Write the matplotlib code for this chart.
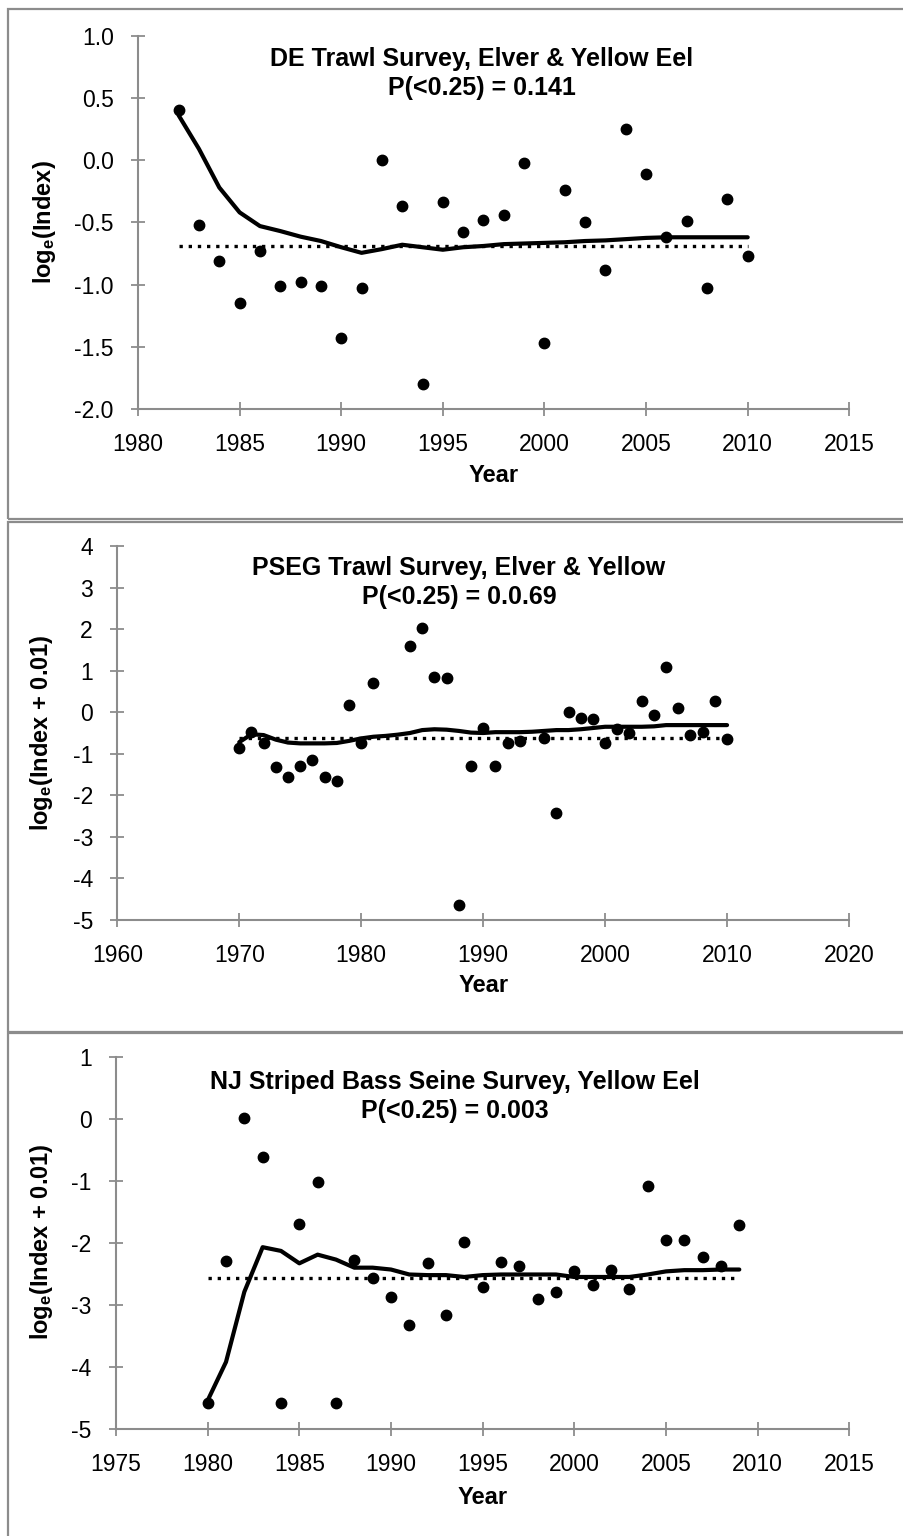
# eel_index_panels.py
#
# Three stacked survey panels: log-scale abundance index by year, with a
# smoothed trend (solid) and the long-term reference level (dotted).

import matplotlib
matplotlib.use("Agg")
import matplotlib.pyplot as plt
from matplotlib.patches import Rectangle
from matplotlib.ticker import FormatStrFormatter

matplotlib.rcParams["font.family"] = ["Liberation Sans", "DejaVu Sans"]
matplotlib.rcParams["mathtext.fontset"] = "custom"
matplotlib.rcParams["mathtext.rm"] = "Liberation Sans"
matplotlib.rcParams["mathtext.bf"] = "Liberation Sans:bold"
matplotlib.rcParams["mathtext.it"] = "Liberation Sans:italic"

W, H = 904, 1536

# ---- DE Trawl Survey, Elver & Yellow Eel ----
de_years = list(range(1982, 2011))
de_index = [0.40, -0.52, -0.81, -1.15, -0.73, -1.01, -0.98, -1.01, -1.43, -1.03,
            0.00, -0.37, -1.80, -0.34, -0.58, -0.48, -0.44, -0.02, -1.47, -0.24,
            -0.50, -0.88, 0.25, -0.11, -0.62, -0.49, -1.03, -0.31, -0.77]
de_trend = [0.36, 0.09, -0.22, -0.42, -0.53, -0.57, -0.615, -0.65, -0.70, -0.745,
            -0.715, -0.68, -0.70, -0.72, -0.70, -0.69, -0.675, -0.67, -0.665, -0.66,
            -0.65, -0.645, -0.635, -0.625, -0.62, -0.62, -0.62, -0.62, -0.62]
de_mean = -0.69

# ---- PSEG Trawl Survey, Elver & Yellow ----
pseg_years = [1970, 1971, 1972, 1973, 1974, 1975, 1976, 1977, 1978, 1979, 1980, 1981,
              1984, 1985, 1986, 1987, 1988, 1989, 1990, 1991, 1992, 1993,
              1995, 1996, 1997, 1998, 1999, 2000, 2001, 2002, 2003, 2004, 2005,
              2006, 2007, 2008, 2009, 2010]
pseg_index = [-0.85, -0.47, -0.74, -1.33, -1.55, -1.30, -1.14, -1.57, -1.65, 0.18, -0.75, 0.70,
              1.60, 2.02, 0.85, 0.82, -4.63, -1.30, -0.37, -1.30, -0.75, -0.70,
              -0.63, -2.43, 0.00, -0.13, -0.17, -0.73, -0.41, -0.51, 0.27, -0.07, 1.09,
              0.11, -0.54, -0.47, 0.26, -0.64]
pseg_trend_years = list(range(1970, 2011))
pseg_trend = [-0.72, -0.53, -0.55, -0.66, -0.73, -0.75, -0.75, -0.75, -0.74, -0.69,
              -0.63, -0.59, -0.57, -0.54, -0.50, -0.43, -0.41, -0.42, -0.45, -0.49,
              -0.50, -0.48, -0.48, -0.48, -0.47, -0.45, -0.43, -0.43, -0.41, -0.38,
              -0.35, -0.35, -0.35, -0.35, -0.34, -0.31, -0.31, -0.31, -0.31, -0.31, -0.31]
pseg_mean = -0.61

# ---- NJ Striped Bass Seine Survey, Yellow Eel ----
nj_years = list(range(1980, 2010))
nj_index = [-4.58, -2.29, 0.01, -0.62, -4.58, -1.69, -1.02, -4.58, -2.27, -2.56,
            -2.88, -3.32, -2.33, -3.17, -1.99, -2.71, -2.31, -2.38, -2.90, -2.79,
            -2.46, -2.68, -2.44, -2.75, -1.09, -1.95, -1.95, -2.23, -2.37, -1.72]
nj_trend = [-4.54, -3.92, -2.79, -2.07, -2.13, -2.33, -2.19, -2.27, -2.40, -2.40,
            -2.43, -2.51, -2.52, -2.52, -2.55, -2.52, -2.51, -2.51, -2.51, -2.51,
            -2.55, -2.55, -2.55, -2.55, -2.51, -2.46, -2.44, -2.44, -2.43, -2.43]
nj_mean = -2.56

AXIS_GREY = "#8c8c8c"


def fx(px):
    return px / W


def fy(py):
    return 1 - py / H


def draw_panel(fig, box, axes_px, years, index, trend_years, trend, mean,
               xlim, xstep, ylim, ystep, yfmt, title, title_px, ylabel,
               ylabel_px, year_py):
    # outer frame of the panel
    bx0, by0, bx1, by1 = box
    fig.add_artist(Rectangle((fx(bx0), fy(by1)), fx(bx1 - bx0), (by1 - by0) / H,
                             transform=fig.transFigure, fill=False,
                             edgecolor=AXIS_GREY, linewidth=1.6))

    left, top, right, bottom = axes_px
    ax = fig.add_axes([fx(left), fy(bottom), fx(right - left), (bottom - top) / H])

    ax.plot(trend_years, trend, color="black", linewidth=3, solid_capstyle="round",
            zorder=3)
    ax.plot([trend_years[0], trend_years[-1]], [mean, mean], color="black",
            linewidth=2.4, linestyle=(0, (1, 1.75)), zorder=2)
    ax.plot(years, index, linestyle="none", marker="o", markersize=7.5,
            color="black", zorder=4)

    ax.set_xlim(*xlim)
    ax.set_ylim(*ylim)
    ax.set_xticks(range(xlim[0], xlim[1] + 1, xstep))
    yt = []
    v = ylim[0]
    while v <= ylim[1] + 1e-9:
        yt.append(round(v, 2))
        v += ystep
    ax.set_yticks(yt)
    ax.yaxis.set_major_formatter(FormatStrFormatter(yfmt))

    for side in ("top", "right"):
        ax.spines[side].set_visible(False)
    for side in ("left", "bottom"):
        ax.spines[side].set_color(AXIS_GREY)
        ax.spines[side].set_linewidth(1.5)
    ax.tick_params(direction="inout", length=10, width=1.3, color=AXIS_GREY,
                   labelsize=16.5, labelcolor="black")
    ax.tick_params(axis="x", pad=12.5)
    ax.tick_params(axis="y", pad=12.5)
    ax.patch.set_alpha(0)

    fig.text(fx(title_px[0]), fy(title_px[1]), title, ha="center", va="center",
             fontsize=18, fontweight="bold", linespacing=1.22)
    fig.text(fx(ylabel_px[0]), fy(ylabel_px[1]), ylabel, ha="center", va="center",
             rotation=90, fontsize=17, fontweight="bold")
    fig.text(fx((left + right) / 2), fy(year_py), "Year", ha="center", va="center",
             fontsize=17, fontweight="bold")
    return ax


def main():
    fig = plt.figure(figsize=(W / 100, H / 100), dpi=100)

    draw_panel(fig, (7.5, 9, 910, 519), (138, 35.7, 849.3, 409),
               de_years, de_index, de_years, de_trend, de_mean,
               (1980, 2015), 5, (-2.0, 1.0), 0.5, "%.1f",
               "DE Trawl Survey, Elver & Yellow Eel\nP(<0.25) = 0.141", (482, 73.5),
               r"log$_{\mathbf{e}}$(Index)", (45, 222), 476)

    draw_panel(fig, (7.5, 521.5, 910, 1031.5), (117.3, 546, 849, 920),
               pseg_years, pseg_index, pseg_trend_years, pseg_trend, pseg_mean,
               (1960, 2020), 10, (-5, 4), 1, "%d",
               "PSEG Trawl Survey, Elver & Yellow\nP(<0.25) = 0.0.69", (459, 582.5),
               r"log$_{\mathbf{e}}$(Index + 0.01)", (42, 733), 986)

    draw_panel(fig, (7.5, 1033, 910, 1545), (116, 1056.7, 849.3, 1429),
               nj_years, nj_index, nj_years, nj_trend, nj_mean,
               (1975, 2015), 5, (-5, 1), 1, "%d",
               "NJ Striped Bass Seine Survey, Yellow Eel\nP(<0.25) = 0.003", (455, 1096.5),
               r"log$_{\mathbf{e}}$(Index + 0.01)", (42, 1242), 1497)

    fig.savefig("out.png", dpi=100)
    plt.close(fig)


if __name__ == "__main__":
    main()
